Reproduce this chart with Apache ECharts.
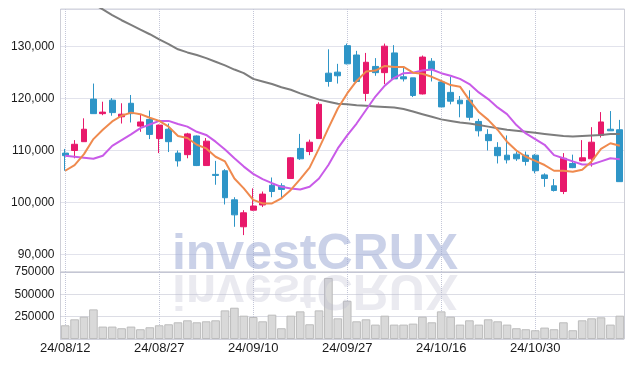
<!DOCTYPE html>
<html><head><meta charset="utf-8">
<script src="https://cdn.jsdelivr.net/npm/echarts@6/dist/echarts.min.js"></script>
<style>html,body{margin:0;padding:0;background:#fff}#c{width:634px;height:366px}</style>
</head><body><div id="c"></div>
<script>
const dates = ['24/08/12','24/08/13','24/08/14','24/08/16','24/08/19','24/08/20','24/08/21','24/08/22','24/08/23','24/08/26',
'24/08/27','24/08/28','24/08/29','24/08/30','24/09/02','24/09/03','24/09/04','24/09/05','24/09/06','24/09/09',
'24/09/10','24/09/11','24/09/12','24/09/13','24/09/19','24/09/20','24/09/23','24/09/24','24/09/25','24/09/26',
'24/09/27','24/09/30','24/10/02','24/10/04','24/10/07','24/10/08','24/10/10','24/10/11','24/10/14','24/10/15',
'24/10/16','24/10/17','24/10/18','24/10/21','24/10/22','24/10/23','24/10/24','24/10/25','24/10/28','24/10/29',
'24/10/30','24/10/31','24/11/01','24/11/04','24/11/05','24/11/06','24/11/07','24/11/08','24/11/11','24/11/12'];

const open = [109500,110000,111700,119900,117100,119700,116500,119100,114700,116000,
112300,114100,109500,109200,112800,107100,105400,106100,100500,95300,
98500,99500,103300,103200,104600,110400,109800,112300,124900,125100,
130200,128400,121000,126200,125000,128800,124200,124000,120900,127200,
123200,121200,119700,119700,115600,113100,110600,109100,109300,109100,
109100,105300,103200,102100,107500,108000,108400,112900,114100,114000];
const close = [109000,111200,114100,117100,117400,117300,117000,117100,115500,113100,
114900,111700,108000,113200,107100,111800,105200,100900,97600,98000,
99300,101600,102100,102500,108600,108400,111600,118900,123300,124400,
126700,123300,127000,125000,130100,123800,123800,120600,128000,125600,
118400,119500,119000,116400,113800,111900,109000,108200,108400,107900,
106100,104600,102300,108500,106700,108600,111600,115500,113800,104000];
const low = [106100,108500,111700,117100,116800,116700,115200,115400,113600,112200,
109500,109700,106900,108500,107000,107100,103400,99600,95300,93700,
98400,99100,101000,101000,104600,108200,109100,112300,122300,122900,
126600,123100,119500,124400,122800,123800,123300,120300,120800,123300,
118400,118900,116400,115800,112700,110000,107500,107500,108000,107100,
105600,103000,102100,101600,106600,107900,106900,112500,113800,104000];
const high = [110300,112000,116200,122900,119400,120100,119100,120700,117000,117700,
115000,115200,110000,113400,112900,112400,108000,106400,101000,98500,
102700,102100,104800,103700,108700,113200,112100,119300,129500,126700,
130600,129200,128800,127800,130600,130300,126000,124000,128300,127800,
123300,124200,120500,121600,116100,114100,111600,112900,109800,109800,
109300,105600,104500,109500,109200,112000,114500,117400,117600,115900];

const maShort = [106100,107200,109300,112200,114000,115600,116700,117300,117000,116300,
115700,114600,112800,112400,111100,110400,108800,107900,104600,102700,
100500,99800,99800,100800,102400,104500,106700,110400,114300,118100,
121000,123400,125200,125400,126300,126100,126100,125000,124800,124200,
123400,122600,122300,119700,117400,115900,114000,111700,110000,108800,
108000,107200,106100,106100,105900,106300,107900,110300,111400,110900];
const maMid = [109000,108800,108600,108400,109000,110900,112000,113100,114300,115000,
115700,115700,115100,114600,113600,113000,111700,110200,108500,106900,
105500,104500,103700,103000,102700,102500,103000,104600,107200,110400,
112900,115200,117800,120400,122500,124000,124900,125000,125400,125600,
124900,124400,123800,122800,121200,119900,118300,117000,114900,113300,
112200,111100,109100,108500,107900,107300,107300,107900,108500,108300];
const maLong = [141000,140100,139200,138200,137200,136100,135100,134200,133300,132400,
131400,130500,129500,128900,128400,127800,127100,126400,125600,124900,
123800,123300,122800,122200,121700,121000,120400,119800,119400,119000,
118900,118700,118600,118500,118400,118300,118000,117500,117000,116500,
116000,115700,115400,115200,114900,114600,114300,114000,113800,113600,
113400,113200,113000,112800,112700,112800,112900,113000,113200,113200];

const volume = [153700,220400,250000,331500,138900,138900,120400,138900,109300,131500,
153700,164800,187000,209300,187000,198100,209300,320400,350000,261100,
246300,198100,272200,120400,261100,309300,164800,320400,683400,231500,
427800,198100,220400,161100,261100,161100,161100,172200,250000,187000,
309300,250000,161100,209300,161100,220400,198100,161100,120400,109300,
98100,127800,109300,187000,98100,209300,231500,242600,161100,261100];

const priceTicks = [90000,100000,110000,120000,130000];
const volumeTicks = [250000,500000,750000];

const candleData = dates.map((d, i) => [open[i], close[i], low[i], high[i]]);

const gridLine = {type: 'dotted', color: '#c4c7d8', width: 1};
const labelFont = {color: '#1a1a1a', fontFamily: 'Liberation Sans', fontSize: 12};

const chart = echarts.init(document.getElementById('c'), null, {renderer: 'canvas'});
chart.setOption({
  animation: false,
  backgroundColor: '#fff',
  grid: [
    {left: 60.5, right: 9.5, top: 9, height: 263, show: true, borderColor: '#cfd0d8', borderWidth: 1},
    {left: 60.5, right: 9.5, top: 272, height: 67, show: true, borderColor: '#cfd0d8', borderWidth: 1}
  ],
  xAxis: [
    {type: 'category', data: dates, gridIndex: 0, boundaryGap: true,
     axisLine: {show: false}, axisTick: {show: false}, axisLabel: {show: false},
     splitLine: {show: true, interval: 9, alignWithLabel: true, lineStyle: gridLine}},
    {type: 'category', data: dates, gridIndex: 1, boundaryGap: true,
     axisLine: {show: false}, axisTick: {show: false},
     axisLabel: {interval: 9, margin: 3, fontSize: 13, color: '#1a1a1a', fontFamily: 'Liberation Sans'},
     splitLine: {show: true, interval: 9, alignWithLabel: true, lineStyle: gridLine}}
  ],
  yAxis: [
    {type: 'value', gridIndex: 0, min: 86590, max: 137265, splitNumber: 5, scale: true,
     axisLine: {show: false}, axisTick: {show: false},
     axisLabel: Object.assign({margin: 6, showMinLabel: false, showMaxLabel: false,
       formatter: v => priceTicks.indexOf(v) >= 0 ? v.toLocaleString('en-US') : ''}, labelFont),
     splitLine: {show: true, lineStyle: gridLine}},
    {type: 'value', gridIndex: 1, min: 0, max: 750000, interval: 250000,
     axisLine: {show: false}, axisTick: {show: false},
     axisLabel: Object.assign({margin: 6,
       formatter: v => volumeTicks.indexOf(v) >= 0 ? String(v) : ''}, labelFont),
     splitLine: {show: true, lineStyle: {type: 'dotted', color: '#b8bacb', width: 1}}}
  ],
  series: [
    {type: 'candlestick', name: 'price', xAxisIndex: 0, yAxisIndex: 0, data: candleData,
     barWidth: '68%',
     itemStyle: {color: '#E8196B', color0: '#2E95C7', borderColor: '#E8196B', borderColor0: '#2E95C7', borderWidth: 1}},
    {type: 'line', name: 'MA60', xAxisIndex: 0, yAxisIndex: 0, data: maLong, showSymbol: false, symbol: 'none',
     lineStyle: {color: '#7d7d7d', width: 2}, z: 3},
    {type: 'line', name: 'MA20', xAxisIndex: 0, yAxisIndex: 0, data: maMid, showSymbol: false, symbol: 'none',
     lineStyle: {color: '#C95BE8', width: 2}, z: 3},
    {type: 'line', name: 'MA5', xAxisIndex: 0, yAxisIndex: 0, data: maShort, showSymbol: false, symbol: 'none',
     lineStyle: {color: '#EF8A4E', width: 2}, z: 3},
    {type: 'bar', name: 'volume', xAxisIndex: 1, yAxisIndex: 1, data: volume, barCategoryGap: '8%',
     itemStyle: {color: '#d9d9d9', borderColor: '#bcbcbc', borderWidth: 1}}
  ],
  graphic: [
    {type: 'text', x: 315, y: 272, z: 100, silent: true,
     style: {text: 'investCRUX', x: 0, y: -17, align: 'center', verticalAlign: 'middle',
       font: 'bold 50px "Liberation Sans"', fill: 'rgba(150,164,210,0.5)'}},
    {type: 'text', x: 315, y: 272, scaleY: -1, z: 100, silent: true,
     style: {text: 'investCRUX', x: 0, y: -17, align: 'center', verticalAlign: 'middle',
       font: 'bold 50px "Liberation Sans"', fill: 'rgba(185,185,205,0.3)'}}
  ]
});
</script></body></html>
